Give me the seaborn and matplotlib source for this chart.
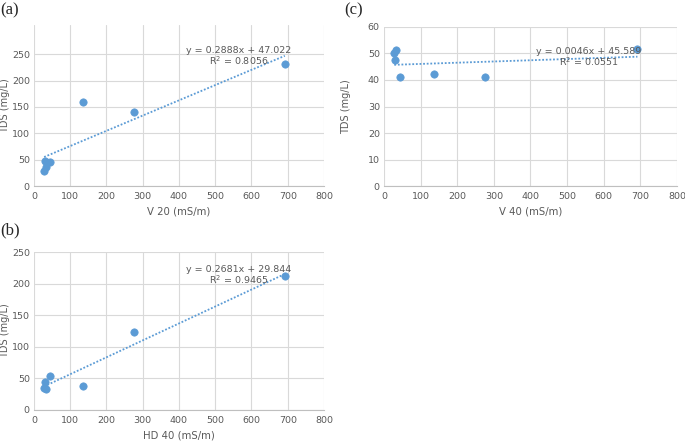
import numpy as np
import pandas as pd
import seaborn as sns
import matplotlib.pyplot as plt

# conductivity values (mS/m), shared by all three panels
ec = [28, 30, 33, 44, 136, 275, 692]

# TDS (mg/L) for each panel
tds_v20 = [28, 48, 37, 45, 160, 140, 231]
tds_hd40 = [35, 45, 34, 54, 38, 123, 212]
tds_v40 = [50, 47.5, 51.3, 41.3, 42.3, 41.1, 51.7]

# trendline coefficients as printed on the chart
slopes = [0.2888, 0.2681, 0.0046]
intercepts = [47.022, 29.844, 45.589]
r2 = [0.8056, 0.9465, 0.0551]

panel_tags = ["(a)", "(b)", "(c)"]
x_titles = ["V 20 (mS/m)", "HD 40 (mS/m)", "V 40 (mS/m)"]

sns.set_style("white")
plt.rcParams['font.family'] = ['Liberation Sans Narrow', 'DejaVu Sans']

blue = "#5b9bd5"
grey_txt = "#595959"
grid_c = "#d9d9d9"

fig = plt.figure(figsize=(6.85, 4.41), dpi=100)

# axes placement (a), (b), (c)
ax_a = fig.add_axes([0.0496, 0.578, 0.4234, 0.365])
ax_b = fig.add_axes([0.0496, 0.0703, 0.4234, 0.358])
ax_c = fig.add_axes([0.5606, 0.578, 0.4277, 0.361])

setups = [
    (ax_a, tds_v20, (0, 305), np.arange(0, 251, 50), (565, 256), (565, 237), -0.081),
    (ax_b, tds_hd40, (0, 250), np.arange(0, 251, 50), (565, 223), (565, 207), -0.081),
    (ax_c, tds_v40, (0, 60), np.arange(0, 61, 10), (558, 50.8), (560, 46.7), -0.112),
]

for i, (ax, yv, ylim, yticks, eq_pos, r_pos, ylab_x) in enumerate(setups):
    df = pd.DataFrame({"x": ec, "y": yv})
    sns.scatterplot(data=df, x="x", y="y", ax=ax, color=blue, s=28,
                    edgecolor=blue, linewidth=0.5, zorder=3)
    xs = np.array([min(ec), max(ec)])
    ax.plot(xs, slopes[i] * xs + intercepts[i], linestyle=(0, (1, 1)),
            color=blue, linewidth=1.3, zorder=2)

    ax.set_xlim(0, 800)
    ax.set_ylim(*ylim)
    ax.set_xticks(np.arange(0, 801, 100))
    ax.set_yticks(yticks)
    ax.grid(True, color=grid_c, linewidth=0.8)
    ax.set_axisbelow(True)
    for s in ["top", "right", "left"]:
        ax.spines[s].set_visible(False)
    ax.spines["bottom"].set_color("#bfbfbf")
    ax.spines["bottom"].set_linewidth(0.8)
    ax.tick_params(axis="both", length=0, labelsize=6.8, colors=grey_txt, pad=4)
    ax.tick_params(axis="y", pad=3)
    ax.set_xlabel(x_titles[i], fontsize=7.3, color=grey_txt, labelpad=4)
    ax.set_ylabel("TDS (mg/L)", fontsize=7.0, color=grey_txt)
    ax.yaxis.set_label_coords(ylab_x, 0.5)

    ax.text(eq_pos[0], eq_pos[1], "y = %.4fx + %.3f" % (slopes[i], intercepts[i]),
            fontsize=6.8, color=grey_txt, ha="center", va="center")
    ax.text(r_pos[0], r_pos[1], "R$^2$ = %.4f" % r2[i],
            fontsize=6.8, color=grey_txt, ha="center", va="center")

# panel letters
tag_kw = dict(fontsize=12, family="Liberation Serif", va="top", ha="left")
fig.text(0.0, 0.995, panel_tags[0], **tag_kw)
fig.text(0.0, 1 - 222 / 441, panel_tags[1], **tag_kw)
fig.text(0.503, 0.995, panel_tags[2], **tag_kw)

fig.savefig("out.png", dpi=100)
